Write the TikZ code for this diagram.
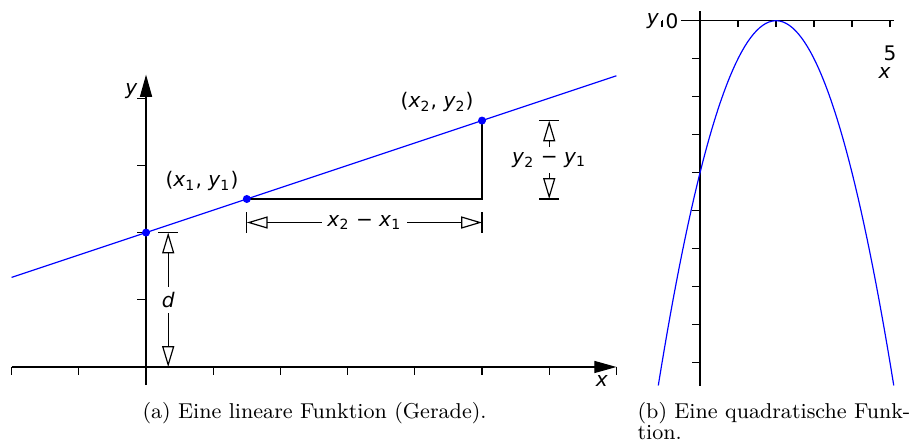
\documentclass[tikz,border=0pt]{standalone}
\usepackage{fontspec}
\newfontfamily\plotfont{DejaVu Sans}[ItalicFont={DejaVu Sans Oblique}]
\usetikzlibrary{arrows.meta}
\newcommand\vr[1]{\textit{#1}}
\begin{document}
\begin{tikzpicture}[line width=0.5pt,every node/.style={font=\plotfont\fontsize{8.5}{10}\selectfont},
    axisarrow/.style={-{Triangle[length=3.3mm,width=1.8mm]}},
    dimarrow/.style={{Triangle[open,length=3.1mm,width=1.8mm]}-{Triangle[open,length=3.1mm,width=1.8mm]}},
    dimlabel/.style={fill=white,inner sep=2.3pt},
    caption/.style={font=\rmfamily\fontsize{9.1}{8.9}\selectfont,inner sep=0pt,align=left}]
    \useasboundingbox (-2.173,-1.176) rectangle (11.354,5.461);
    \foreach \xx in {-2,...,7} \draw (\xx,0) -- ++(0,-0.12);
    \foreach \yy in {0,...,4} \draw (0,\yy) -- ++(-0.13,0);
    \draw[axisarrow] (-2,0) -- (7,0) node[below left] (xlab) {\vr{x}};
    \draw[axisarrow] (0,-0.27) -- (0,4.35) node[below left] (ylab) {\vr{y}};
    \coordinate (P0) at (0,2);
    \coordinate (P1) at (1.5,2.5);
    \coordinate (P2) at (5,3.6667);
    \coordinate (C) at (5,2.5);
    \draw[blue] (-2,1.3333) -- (7,4.3333);
    \draw (P1) -- (C) -- (P2);
    \foreach \p in {P0,P1,P2} \fill[blue] (\p) circle (1.7pt);
    \node[above left] (L1) at (P1) {(\vr{x}\textsubscript{1}, \vr{y}\textsubscript{1})};
    \node[above left] (L2) at (P2) {(\vr{x}\textsubscript{2}, \vr{y}\textsubscript{2})};
    \coordinate (dx1) at (1.5,2.15);
    \coordinate (dx2) at (5,2.15);
    \coordinate (dy1) at (6,2.5);
    \coordinate (dy2) at (6,3.6667);
    \coordinate (dd1) at (0.33,0);
    \coordinate (dd2) at (0.33,2);
    \foreach \c in {dx1,dx2} \draw ([yshift=-0.15cm]\c) -- ([yshift=0.15cm]\c);
    \foreach \c in {dy1,dy2,dd1,dd2} \draw ([xshift=-0.15cm]\c) -- ([xshift=0.15cm]\c);
    \draw[dimarrow] (dx1) -- (dx2)
        node[midway,dimlabel] (dxl) {\vr{x}\textsubscript{2} − \vr{x}\textsubscript{1}};
    \draw[dimarrow] (dy1) -- (dy2)
        node[midway,dimlabel] (dyl) {\vr{y}\textsubscript{2} − \vr{y}\textsubscript{1}};
    \draw[dimarrow] (dd1) -- (dd2) node[midway,dimlabel] (ddl) {\vr{d}};
    \begin{scope}[shift={(8.244,5.153)},x=0.5655cm,y=0.5655cm]
        \foreach \xx in {-1,1,2,...,5} \draw (\xx,0) -- ++(0,-2.5pt);
        \foreach \yy in {-9,...,-1} \draw (0,\yy) -- ++(-3.4pt,0);
        \draw (-1,0) coordinate (xa) -- (5.1,0);
        \draw (0,0.25) -- (0,-9.6);
        \node[left,inner sep=1pt] (qylab) at (xa) {\vr{y}};
        \node[fill=white,inner sep=1pt] (zero) at (-0.74,0) {0};
        \node (five) at (5,-0.85) {5};
        \node (qxlab) at (4.86,-1.38) {\vr{x}};
        \draw[blue] plot[domain=-1.098:5.098,samples=80] (\x,{0-(\x-2)*(\x-2)});
    \end{scope}
    \node[caption,anchor=base west] (capa) at (-0.06,-0.774) {(a) Eine lineare Funktion (Gerade).};
    \node[caption,anchor=north west] (capb) at (7.307,-0.52) {(b) Eine quadratische Funk-\\tion.};
\end{tikzpicture}
\end{document}
